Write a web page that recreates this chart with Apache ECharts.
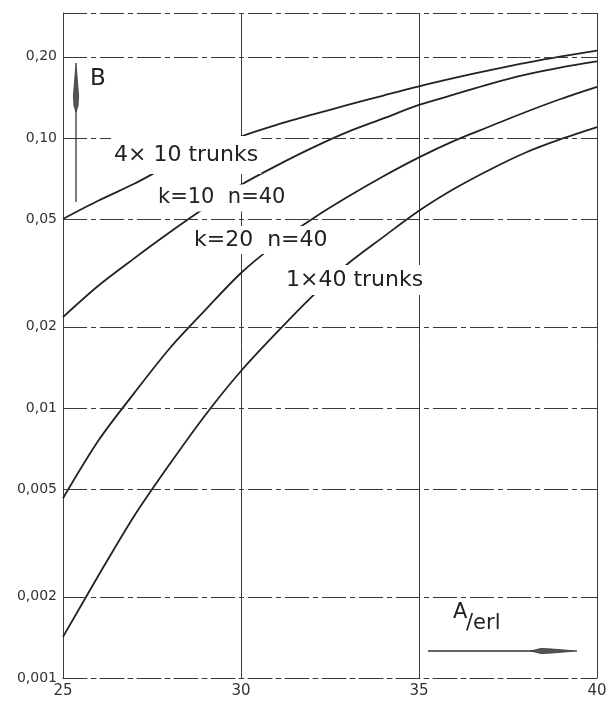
<!DOCTYPE html>
<html>
<head>
<meta charset="utf-8">
<script src="https://cdn.jsdelivr.net/npm/echarts@6/dist/echarts.min.js"></script>
<style>
html,body{margin:0;padding:0;background:#fff;}
#chart{width:614px;height:705px;}
</style>
</head>
<body>
<div id="chart"></div>
<script>
// Traffic offered A (erl)
const XS = [25, 26, 27, 28, 29, 30, 31, 32, 33, 34, 35, 36, 37, 38, 39, 40];
// Blocking probability B
const B_4x10   = [0.0501, 0.0586, 0.0676, 0.0794, 0.0902, 0.1012, 0.1117, 0.1219, 0.1324, 0.1435, 0.1552, 0.1667, 0.1782, 0.1897, 0.2004, 0.2104];
const B_k10n40 = [0.0217, 0.0284, 0.0358, 0.0447, 0.0552, 0.0670, 0.0789, 0.0918, 0.1052, 0.1180, 0.1324, 0.1449, 0.1585, 0.1714, 0.1824, 0.1919];
const B_k20n40 = [0.00463, 0.00759, 0.01135, 0.01663, 0.02307, 0.0316, 0.0406, 0.0501, 0.0605, 0.0721, 0.0847, 0.0977, 0.1104, 0.1247, 0.1396, 0.1545];
const B_1x40   = [0.00142, 0.0024, 0.00398, 0.0062, 0.00942, 0.0137, 0.0190, 0.0259, 0.0342, 0.0430, 0.0537, 0.0649, 0.0764, 0.0883, 0.0991, 0.1096];
const SERIES_NAMES = ['4× 10 trunks', 'k=10  n=40', 'k=20  n=40', '1×40 trunks'];
// y tick values and labels (log scale)
const Y_TICKS = [0.001, 0.002, 0.005, 0.01, 0.02, 0.05, 0.1, 0.2];
const Y_TICK_LABELS = ['0,001', '0,002', '0,005', '0,01', '0,02', '0,05', '0,10', '0,20'];
const Y_MIN = 0.001, Y_MAX = 0.29;
const X_MIN = 25, X_MAX = 40, X_STEP = 5;

const lg = v => Math.log10(v);
const FONT = '"DejaVu Sans", "Liberation Sans", sans-serif';
const INK = '#222';
const GRID_INK = '#3a3a3a';
const DASH = [24, 4, 5, 4];

const chart = echarts.init(document.getElementById('chart'), null, {renderer: 'canvas'});

const allSeries = [B_4x10, B_k10n40, B_k20n40, B_1x40].map((arr, si) => ({
  name: SERIES_NAMES[si],
  type: 'line',
  smooth: 0.3,
  symbol: 'none',
  silent: true,
  z: 3,
  lineStyle: {color: INK, width: 1.8},
  data: XS.map((x, i) => [x, lg(arr[i])])
}));

// horizontal dash-dot grid lines (log positions) + top border
allSeries[0].markLine = {
  silent: true,
  symbol: ['none', 'none'],
  label: {show: false},
  lineStyle: {color: GRID_INK, width: 1, type: DASH},
  data: Y_TICKS.slice(1).map(v => ({yAxis: lg(v)})).concat([{yAxis: lg(Y_MAX)}])
};

chart.setOption({
  animation: false,
  backgroundColor: '#fff',
  grid: {left: 63, right: 17, top: 13, bottom: 27, containLabel: false},
  xAxis: {
    type: 'value', min: X_MIN, max: X_MAX, interval: X_STEP,
    axisLine: {show: true, lineStyle: {color: GRID_INK, width: 1, type: DASH}},
    axisTick: {show: false},
    splitLine: {show: true, lineStyle: {color: GRID_INK, width: 1}},
    axisLabel: {color: '#333', fontFamily: FONT, fontSize: 15, margin: 6}
  },
  yAxis: {
    type: 'value', min: lg(Y_MIN), max: lg(Y_MAX),
    axisLine: {show: true, lineStyle: {color: GRID_INK, width: 1}},
    axisTick: {show: false},
    splitLine: {show: false},
    axisLabel: {
      color: '#333', fontFamily: FONT, fontSize: 14, margin: 6,
      customValues: Y_TICKS.map(lg),
      formatter: function (val) {
        for (let i = 0; i < Y_TICKS.length; i++) {
          if (Math.abs(lg(Y_TICKS[i]) - val) < 1e-6) return Y_TICK_LABELS[i];
        }
        return '';
      }
    }
  },
  series: allSeries,
  graphic: [
    // curve labels (white background hides the curve / grid segment under them)
    {type: 'text', z: 100, style: {text: SERIES_NAMES[0], x: 111, y: 155, align: 'left', verticalAlign: 'middle',
      font: '22px ' + FONT, fill: INK, backgroundColor: '#fff', padding: [8, 3, 8, 3]}},
    {type: 'text', z: 100, style: {text: SERIES_NAMES[1], x: 155, y: 198, align: 'left', verticalAlign: 'middle',
      font: '21px ' + FONT, fill: INK, backgroundColor: '#fff', padding: [3, 3, 3, 3]}},
    {type: 'text', z: 100, style: {text: SERIES_NAMES[2], x: 191, y: 240, align: 'left', verticalAlign: 'middle',
      font: '22px ' + FONT, fill: INK, backgroundColor: '#fff', padding: [3, 3, 3, 3]}},
    {type: 'text', z: 100, style: {text: SERIES_NAMES[3], x: 283, y: 280, align: 'left', verticalAlign: 'middle',
      font: '22px ' + FONT, fill: INK, backgroundColor: '#fff', padding: [4, 3, 4, 3]}},
    // B with upward arrow
    {type: 'text', z: 100, style: {text: 'B', x: 90, y: 79, align: 'left', verticalAlign: 'middle',
      font: '23px ' + FONT, fill: INK}},
    {type: 'line', z: 100, shape: {x1: 76, y1: 202, x2: 76, y2: 100}, style: {stroke: '#333', lineWidth: 1.3}},
    {type: 'polygon', z: 100, shape: {points: [[76, 63], [78.6, 96], [78, 106], [76, 112], [74, 106], [73.4, 96]]},
      style: {fill: '#555', stroke: '#333', lineWidth: 0.8}},
    // A/erl with rightward arrow
    {type: 'text', z: 100, style: {text: 'A', x: 453, y: 623, align: 'left', verticalAlign: 'bottom',
      font: '21px ' + FONT, fill: INK}},
    {type: 'text', z: 100, style: {text: '/erl', x: 466, y: 634, align: 'left', verticalAlign: 'bottom',
      font: '21px ' + FONT, fill: INK}},
    {type: 'line', z: 100, shape: {x1: 428, y1: 651, x2: 540, y2: 651}, style: {stroke: '#333', lineWidth: 1.3}},
    {type: 'polygon', z: 100, shape: {points: [[531, 651], [541, 648.4], [552, 649], [577, 651], [552, 653], [541, 653.6]]},
      style: {fill: '#555', stroke: '#333', lineWidth: 0.8}}
  ]
});
</script>
</body>
</html>
